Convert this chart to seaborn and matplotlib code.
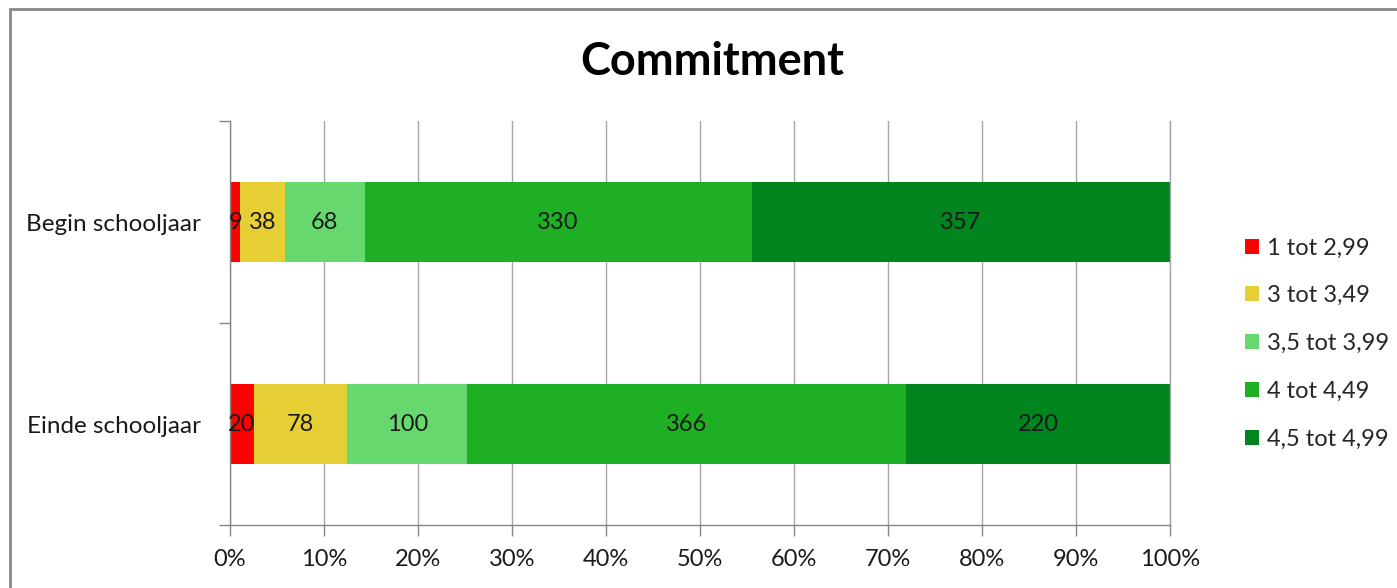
import numpy as np
import pandas as pd
import matplotlib
matplotlib.use("Agg")
import matplotlib.pyplot as plt
from matplotlib.patches import Rectangle, Patch
import seaborn as sns

# chart data
periods = ["Begin schooljaar", "Einde schooljaar"]
bands = ["1 tot 2,99", "3 tot 3,49", "3,5 tot 3,99", "4 tot 4,49", "4,5 tot 4,99"]
begin_counts = [9, 38, 68, 330, 357]
einde_counts = [20, 78, 100, 366, 220]
band_colors = ["#FF0000", "#E6CF35", "#66D86E", "#1EAF24", "#00841D"]
xtick_labels = ["0%", "10%", "20%", "30%", "40%", "50%", "60%", "70%", "80%", "90%", "100%"]

sns.set_style("white")
plt.rcParams["font.family"] = ["Lato", "DejaVu Sans"]

counts = np.array([begin_counts, einde_counts], dtype=float)
pct = counts / counts.sum(axis=1, keepdims=True) * 100
cum = pct.cumsum(axis=1)

fig = plt.figure(figsize=(13.97, 5.88), dpi=100)
ax = fig.add_axes([0.1646, 0.1071, 0.6729, 0.6871])

ax.set_axisbelow(True)
ax.xaxis.grid(True, color="#A6A6A6", linewidth=1)

# stacked bars: draw cumulative totals from the widest down
for i in range(len(bands) - 1, -1, -1):
    df = pd.DataFrame({"period": periods, "cum": cum[:, i]})
    sns.barplot(data=df, x="cum", y="period", orient="h", color=band_colors[i],
                width=0.4, saturation=1, ax=ax, linewidth=0)

# value labels in the middle of each segment
for r in range(len(periods)):
    for i in range(len(bands)):
        ax.text(cum[r, i] - pct[r, i] / 2, r, str(int(counts[r, i])),
                ha="center", va="center", fontsize=17, color="#1a1a1a")

ax.set_xlim(0, 100)
ax.set_ylim(1.5, -0.5)
ax.set_xticks(np.arange(0, 101, 10))
ax.set_xticklabels(xtick_labels, fontsize=17, color="#1a1a1a")
ax.set_yticks([0, 1])
ax.set_yticklabels(periods, fontsize=17.5, color="#1a1a1a")
ax.set_yticks([-0.5, 0.5, 1.5], minor=True)
ax.tick_params(axis="y", which="major", left=True, length=0, pad=21)
ax.tick_params(axis="y", which="minor", left=True, length=8, width=1,
               color="#868686", direction="out")
ax.tick_params(axis="x", bottom=True, length=8, width=1, color="#868686",
               direction="out", pad=9)
ax.set_xlabel("")
ax.set_ylabel("")

ax.spines["top"].set_visible(False)
ax.spines["right"].set_color("#A6A6A6")
ax.spines["right"].set_linewidth(1)
for side in ["left", "bottom"]:
    ax.spines[side].set_color("#868686")
    ax.spines[side].set_linewidth(1)

fig.text(0.51, 0.894, "Commitment", ha="center", va="center",
         fontsize=32.5, fontweight="bold", color="black")

handles = [Patch(facecolor=c, edgecolor="none") for c in band_colors]
fig.legend(handles, bands, loc="upper left", bbox_to_anchor=(0.876, 0.632),
           frameon=False, fontsize=17, handlelength=0.6, handleheight=0.6,
           handletextpad=0.35, labelspacing=1.13)

# outer chart frame
fig.patches.append(Rectangle((0.0072, -0.1), 1.2, 1.0847, transform=fig.transFigure,
                             fill=False, edgecolor="#868686", linewidth=2))

fig.savefig("out.png", dpi=100)
